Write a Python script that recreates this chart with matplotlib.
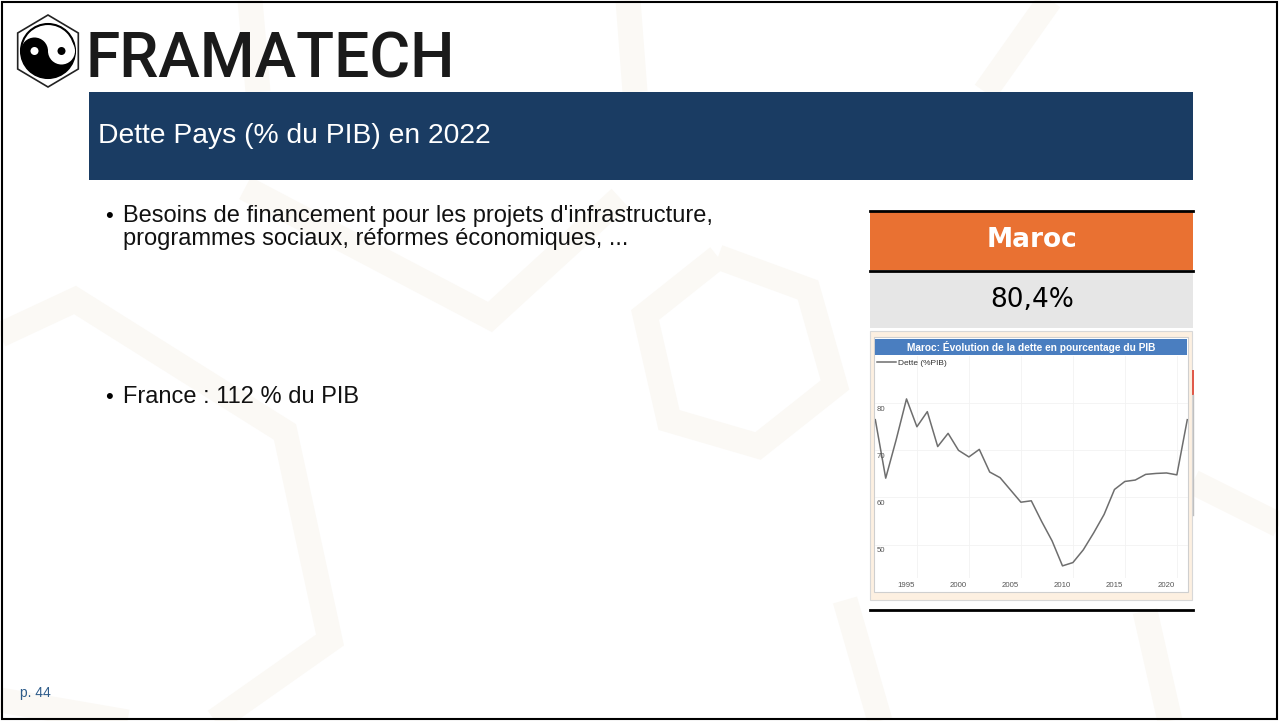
import matplotlib
matplotlib.use("Agg")
import matplotlib.pyplot as plt
from matplotlib.patches import Rectangle, Circle, Wedge, Polygon
import numpy as np

# data
years = list(range(1992, 2023))
dette = [76.5, 64.1, 72.2, 80.9, 75.0, 78.2, 70.8, 73.6, 70.0, 68.6,
         70.2, 65.4, 64.2, 61.6, 59.0, 59.3, 54.9, 50.8, 45.5, 46.2,
         48.9, 52.5, 56.4, 61.7, 63.4, 63.7, 64.9, 65.1, 65.2, 64.8, 76.5]
xticks = [1995, 2000, 2005, 2010, 2015, 2020]
yticks = [50, 60, 70, 80]

titre = "Dette Pays (% du PIB) en 2022"
puces = ["Besoins de financement pour les projets d'infrastructure,",
         "programmes sociaux, réformes économiques, ..."]
puce_france = "France : 112 % du PIB"
pays = "Maroc"
valeur = "80,4%"
titre_graph = "Maroc: Évolution de la dette en pourcentage du PIB"
serie = "Dette (%PIB)"

W, H = 1279, 721
fig = plt.figure(figsize=(W / 100, H / 100), dpi=100)
fig.patch.set_facecolor("white")

# background axes in pixel coordinates
bg = fig.add_axes([0, 0, 1, 1])
bg.set_xlim(0, W)
bg.set_ylim(H, 0)
bg.axis("off")

# faint hexagon watermark
wm = "#fbf9f5"
bands = [
    [(718, 257), (808, 290), (835, 385), (758, 446), (669, 420), (645, 315), (718, 257)],
    [(0, 335), (75, 300), (285, 432), (330, 640), (215, 721)],
    [(245, 188), (490, 317), (620, 198)],
    [(250, 0), (258, 92)],
    [(628, 0), (635, 92)],
    [(1050, 0), (985, 92)],
    [(1193, 482), (1279, 525)],
    [(845, 600), (880, 721)],
    [(1145, 611), (1170, 721)],
    [(0, 700), (220, 738)],
]
for b in bands:
    xs, ys = zip(*b)
    bg.plot(xs, ys, color=wm, lw=18, solid_capstyle="butt", solid_joinstyle="miter", zorder=0)

# frame of the slide
bg.add_patch(Rectangle((2, 2), W - 4, H - 4, fill=False, ec="black", lw=1.5, zorder=5))

# logo: yin-yang in a hexagon
cx, cy, R = 48, 51, 27
hexa = [(cx + 35 * np.sin(a), cy - 36 * np.cos(a)) for a in np.radians(np.arange(0, 360, 60))]
bg.add_patch(Polygon(hexa, closed=True, fill=False, ec="#222222", lw=1.2, zorder=2))
bg.add_patch(Circle((cx, cy), R, fc="white", ec="black", lw=1.5, zorder=2))
bg.add_patch(Wedge((cx, cy), R, 0, 180, fc="black", ec="none", zorder=3))
bg.add_patch(Circle((cx - R / 2, cy), R / 2, fc="black", ec="none", zorder=3))
bg.add_patch(Circle((cx + R / 2, cy), R / 2, fc="white", ec="none", zorder=3))
bg.add_patch(Circle((cx - R / 2, cy), 4, fc="white", ec="none", zorder=4))
bg.add_patch(Circle((cx + R / 2, cy), 4, fc="black", ec="none", zorder=4))
bg.text(86, 78, "FRAMATECH", family="Roboto", weight="medium", fontsize=45, color="#1a1a1a",
        va="baseline", ha="left", zorder=3)

# title bar
bg.add_patch(Rectangle((89, 92), 1104, 88, fc="#1a3c63", ec="none", zorder=2))
bg.text(98, 136, titre, family="Liberation Sans", fontsize=20.3, color="white",
        va="center", ha="left", zorder=3)

# bullets
bg.text(105, 222, "•", family="Liberation Sans", fontsize=16, va="baseline", zorder=3)
bg.text(123, 222, puces[0], family="Liberation Sans", fontsize=17, color="#111111",
        va="baseline", zorder=3)
bg.text(123, 245, puces[1], family="Liberation Sans", fontsize=17, color="#111111",
        va="baseline", zorder=3)
bg.text(105, 403, "•", family="Liberation Sans", fontsize=16, va="baseline", zorder=3)
bg.text(123, 403, puce_france, family="Liberation Sans", fontsize=17, color="#111111",
        va="baseline", zorder=3)

# Maroc card
bg.add_patch(Rectangle((870, 211), 323, 59, fc="#e97132", ec="none", zorder=2))
bg.plot([870, 1193], [210.5, 210.5], color="black", lw=2, zorder=3)
bg.plot([870, 1193], [270.5, 270.5], color="black", lw=2, zorder=3)
bg.text(1032, 247, pays, family="DejaVu Sans", weight="bold", fontsize=19, color="white",
        ha="center", va="baseline", zorder=3)
bg.add_patch(Rectangle((870, 272), 323, 56, fc="#e6e6e6", ec="none", zorder=2))
bg.text(1032, 307, valeur, family="DejaVu Sans", fontsize=19, color="black",
        ha="center", va="baseline", zorder=3)

# chart image frame
bg.add_patch(Rectangle((870, 331), 322, 269, fc="#fdf0e1", ec="#d8d8d8", lw=0.8, zorder=2))
bg.add_patch(Rectangle((874, 337), 314, 255, fc="white", ec="#cfcfcf", lw=0.8, zorder=2))
bg.add_patch(Rectangle((875, 339), 312, 16, fc="#4a7ec0", ec="none", zorder=3))
bg.text(1031, 347, titre_graph, family="Liberation Sans", weight="bold", fontsize=7.3,
        color="white", ha="center", va="center", zorder=4)
bg.add_patch(Rectangle((1192, 370), 2, 25, fc="#e05a4a", ec="none", zorder=3))
bg.plot([1193, 1193], [395, 515], color="#c0c0c0", lw=1, zorder=3)
bg.plot([870, 1193], [610, 610], color="black", lw=2, zorder=3)

# page number
bg.text(20, 697, "p. 44", family="Liberation Sans", fontsize=10, color="#2e5c8a",
        va="baseline", zorder=3)

# line chart
x0, x1, y0, y1 = 875, 1188, 356, 578
ax = fig.add_axes([x0 / W, 1 - y1 / H, (x1 - x0) / W, (y1 - y0) / H])
ax.set_facecolor("none")
ax.plot(years, dette, color="#6e6e6e", lw=1.1, label=serie, zorder=3)
ax.set_xlim(1991.97, 2022.07)
ax.set_ylim(42.93, 90.0)
ax.set_xticks(xticks)
ax.set_xticklabels([str(t) for t in xticks], family="Liberation Sans", fontsize=5.6, color="#555555")
ax.set_xticks([t + 1 for t in xticks], minor=True)
ax.set_yticks(yticks)
ax.set_yticklabels([])
ax.tick_params(axis="both", which="both", length=0, pad=3)
ax.grid(True, which="minor", axis="x", color="#f2f2f2", lw=0.6)
ax.grid(True, which="major", axis="y", color="#f2f2f2", lw=0.6)
for s in ax.spines.values():
    s.set_visible(False)
for t in yticks:
    ax.text(0.006, t - 0.6, str(t), transform=ax.get_yaxis_transform(), family="Liberation Sans",
            fontsize=5.6, color="#555555", ha="left", va="top")
leg = ax.legend(loc="upper left", bbox_to_anchor=(-0.003, 1.0), frameon=False,
                prop={"family": "Liberation Sans", "size": 6}, handlelength=2.2,
                handletextpad=0.3, borderaxespad=0.2, borderpad=0.2)
for txt in leg.get_texts():
    txt.set_color("#333333")

fig.savefig("out.png", dpi=100, facecolor="white")
